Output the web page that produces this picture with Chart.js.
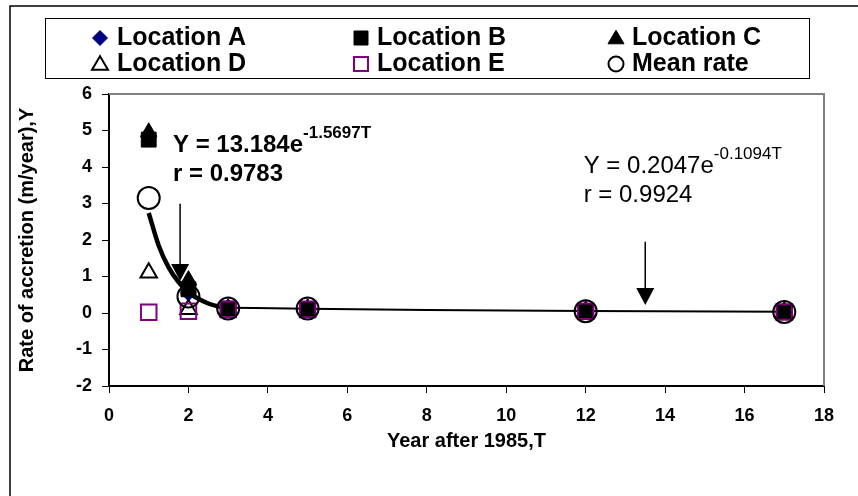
<!DOCTYPE html>
<html><head><meta charset="utf-8">
<script src="https://cdn.jsdelivr.net/npm/chart.js@4.4.0/dist/chart.umd.min.js"></script>
<style>html,body{margin:0;padding:0;background:#fff;overflow:hidden}#wrap{width:858px;height:496px;position:relative}</style>
</head><body><div id="wrap"><canvas id="c"></canvas></div>
<script>
// ---- data ----
const years = [1, 2, 3, 5, 12, 17];
const locationA = [4.85, 0.55, 0.12, 0.12, 0.05, 0.03];
const locationB = [4.75, 0.65, 0.12, 0.10, 0.04, 0.03];
const locationC = [4.95, 0.90, 0.12, 0.12, 0.05, 0.03];
const locationD = [1.10, 0.10, 0.10, 0.10, 0.05, 0.03];
const locationE = [0.02, 0.05, 0.10, 0.10, 0.05, 0.03];
const meanRate  = [3.15, 0.45, 0.12, 0.12, 0.05, 0.03];
const fit1T = [1, 1.25, 1.5, 1.75, 2, 2.25, 2.5, 2.75, 3];
const fit1Y = [2.74, 1.85, 1.25, 0.85, 0.57, 0.39, 0.26, 0.18, 0.12];
const fit2T = [3, 5, 8, 12, 17];
const fit2Y = [0.147, 0.118, 0.085, 0.055, 0.032];
const xTicks = [0, 2, 4, 6, 8, 10, 12, 14, 16, 18];
const yTicks = [-2, -1, 0, 1, 2, 3, 4, 5, 6];
const legendLabels = ['Location A', 'Location B', 'Location C', 'Location D', 'Location E', 'Mean rate'];

const FONT = '"Liberation Sans", Arial, Helvetica, sans-serif';
Chart.defaults.font.family = FONT;
Chart.defaults.color = '#000';

const pts = (xs, ys) => xs.map((x, i) => ({x: x, y: ys[i]}));

const marker = {
  A: {pointStyle: 'rectRot', radius: 8, fill: '#000080', stroke: '#000080', bw: 1},
  B: {pointStyle: 'rect', radius: 10.5, fill: '#000', stroke: '#000', bw: 1},
  C: {pointStyle: 'triangle', radius: 9.5, fill: '#000', stroke: '#000', bw: 1},
  D: {pointStyle: 'triangle', radius: 9.5, fill: 'rgba(0,0,0,0)', stroke: '#000', bw: 2},
  E: {pointStyle: 'rect', radius: 11, fill: 'rgba(0,0,0,0)', stroke: '#800080', bw: 2},
  M: {pointStyle: 'circle', radius: 11, fill: 'rgba(0,0,0,0)', stroke: '#000', bw: 2}
};
function ds(label, ys, m, order) {
  return {label: label, data: pts(years, ys), pointStyle: m.pointStyle, pointRadius: m.radius,
    pointHoverRadius: m.radius, pointBackgroundColor: m.fill, pointBorderColor: m.stroke,
    pointBorderWidth: m.bw, showLine: false, order: order};
}

const datasets = [
  ds(legendLabels[0], locationA, marker.A, 6),
  ds(legendLabels[1], locationB, marker.B, 5),
  ds(legendLabels[2], locationC, marker.C, 4),
  ds(legendLabels[3], locationD, marker.D, 3),
  ds(legendLabels[4], locationE, marker.E, 2),
  ds(legendLabels[5], meanRate, marker.M, 1),
  {label: 'fit1', data: pts(fit1T, fit1Y), showLine: true, pointRadius: 0, borderColor: '#000',
   borderWidth: 4.5, cubicInterpolationMode: 'monotone', order: 10},
  {label: 'fit2', data: pts(fit2T, fit2Y), showLine: true, pointRadius: 0, borderColor: '#000',
   borderWidth: 2, cubicInterpolationMode: 'monotone', order: 11}
];

function drawMarker(ctx, style, x, y, r, fill, stroke, bw) {
  ctx.save();
  ctx.beginPath();
  if (style === 'rect') { const s = r; ctx.rect(x - s, y - s, 2 * s, 2 * s); }
  else if (style === 'rectRot') { ctx.moveTo(x, y - r); ctx.lineTo(x + r, y); ctx.lineTo(x, y + r); ctx.lineTo(x - r, y); ctx.closePath(); }
  else if (style === 'triangle') { const h = r * 1.7; ctx.moveTo(x, y - h / 2 - 1); ctx.lineTo(x + r, y + h / 2 - 1); ctx.lineTo(x - r, y + h / 2 - 1); ctx.closePath(); }
  else if (style === 'circle') { ctx.arc(x, y, r, 0, Math.PI * 2); }
  ctx.fillStyle = fill; ctx.fill();
  ctx.lineWidth = bw; ctx.strokeStyle = stroke; ctx.stroke();
  ctx.restore();
}

const decor = {
  id: 'decor',
  beforeDraw(chart) {
    const ctx = chart.ctx;
    ctx.save();
    ctx.fillStyle = '#fff'; ctx.fillRect(0, 0, chart.width, chart.height);
    ctx.strokeStyle = '#000'; ctx.lineWidth = 1.5;
    ctx.beginPath(); ctx.moveTo(10, 500); ctx.lineTo(10, 6); ctx.lineTo(862, 6); ctx.stroke();
    ctx.restore();
  },
  beforeDatasetsDraw(chart) {
    const ctx = chart.ctx, a = chart.chartArea;
    ctx.save();
    ctx.strokeStyle = '#808080'; ctx.lineWidth = 2;
    ctx.beginPath(); ctx.moveTo(a.left, a.top); ctx.lineTo(a.right, a.top); ctx.lineTo(a.right, a.bottom); ctx.stroke();
    ctx.restore();
  },
  afterDraw(chart) {
    const ctx = chart.ctx, xs = chart.scales.x, ys = chart.scales.y;
    ctx.save();
    // legend box
    ctx.strokeStyle = '#000'; ctx.lineWidth = 1;
    ctx.strokeRect(45.5, 18.5, 764, 60);
    const cols = [[100, 117], [361, 377], [616, 632]];
    const rows = [37, 63];
    const lm = [
      {s: 'rectRot', r: 7.5, f: '#000080', c: '#000080', w: 1},
      {s: 'rect', r: 7, f: '#000', c: '#000', w: 1},
      {s: 'triangle', r: 8, f: '#000', c: '#000', w: 1},
      {s: 'triangle', r: 8, f: 'rgba(0,0,0,0)', c: '#000', w: 2},
      {s: 'rect', r: 7, f: 'rgba(0,0,0,0)', c: '#800080', w: 2},
      {s: 'circle', r: 7.5, f: 'rgba(0,0,0,0)', c: '#000', w: 2}
    ];
    ctx.font = 'bold 25px ' + FONT; ctx.textBaseline = 'middle'; ctx.textAlign = 'left'; ctx.fillStyle = '#000';
    legendLabels.forEach((lab, i) => {
      const col = cols[i % 3], row = rows[Math.floor(i / 3)], m = lm[i];
      drawMarker(ctx, m.s, col[0], row + 1, m.r, m.f, m.c, m.w);
      ctx.fillStyle = '#000';
      ctx.fillText(lab, col[1], row + 1);
    });
    // equations
    function eq(tx, ty, main, sup, r, weight) {
      const x = xs.getPixelForValue(tx), y = ys.getPixelForValue(ty);
      ctx.textBaseline = 'alphabetic'; ctx.textAlign = 'left'; ctx.fillStyle = '#000';
      ctx.font = weight + ' 24px ' + FONT;
      ctx.fillText(main, x, y);
      const w = ctx.measureText(main).width;
      ctx.font = weight + ' 17px ' + FONT;
      ctx.fillText(sup, x + w, y - 14);
      ctx.font = weight + ' 24px ' + FONT;
      ctx.fillText(r, x, y + 29);
    }
    eq(1.61, 4.41, 'Y = 13.184e', '-1.5697T', 'r = 0.9783', 'bold');
    eq(11.95, 3.83, 'Y = 0.2047e', '-0.1094T', 'r = 0.9924', 'normal');
    // arrows
    function arrow(tx, y0, y1) {
      const x = xs.getPixelForValue(tx), p0 = ys.getPixelForValue(y0), p1 = ys.getPixelForValue(y1);
      ctx.strokeStyle = '#000'; ctx.fillStyle = '#000'; ctx.lineWidth = 1.5;
      ctx.beginPath(); ctx.moveTo(x, p0); ctx.lineTo(x, p1 - 16); ctx.stroke();
      ctx.beginPath(); ctx.moveTo(x - 9, p1 - 17); ctx.lineTo(x + 9, p1 - 17); ctx.lineTo(x, p1); ctx.closePath(); ctx.fill();
    }
    arrow(1.79, 2.99, 0.88);
    arrow(13.5, 1.95, 0.22);
    ctx.restore();
  }
};

new Chart(document.getElementById('c'), {
  type: 'scatter',
  data: {datasets: datasets},
  options: {
    responsive: true, maintainAspectRatio: false, animation: false,
    layout: {padding: {left: 0, right: 34, top: 94, bottom: 0}},
    plugins: {legend: {display: false}, tooltip: {enabled: false}},
    scales: {
      x: {
        type: 'linear', min: 0, max: 18,
        afterBuildTicks: s => { s.ticks = xTicks.map(v => ({value: v})); },
        afterFit: s => { s.height = 110; },
        grid: {drawOnChartArea: false, drawTicks: true, tickLength: 7, color: '#000', lineWidth: 1},
        border: {color: '#000', width: 2},
        ticks: {font: {size: 18, weight: 'bold'}, padding: 12, maxRotation: 0, autoSkip: false, color: '#000'},
        title: {display: true, text: 'Year after 1985,T', font: {size: 20, weight: 'bold'}, color: '#000', padding: {top: 0, bottom: 43}}
      },
      y: {
        type: 'linear', min: -2, max: 6,
        afterBuildTicks: s => { s.ticks = yTicks.map(v => ({value: v})); },
        afterFit: s => { s.width = 109; },
        grid: {drawOnChartArea: false, drawTicks: true, tickLength: 7, color: '#000', lineWidth: 1},
        border: {color: '#000', width: 2},
        ticks: {font: {size: 18, weight: 'bold'}, padding: 10, autoSkip: false, color: '#000'},
        title: {display: true, text: 'Rate of accretion (m/year),Y', font: {size: 20, weight: 'bold'}, color: '#000', padding: {top: 15, bottom: 0}}
      }
    }
  },
  plugins: [decor]
});
</script></body></html>
